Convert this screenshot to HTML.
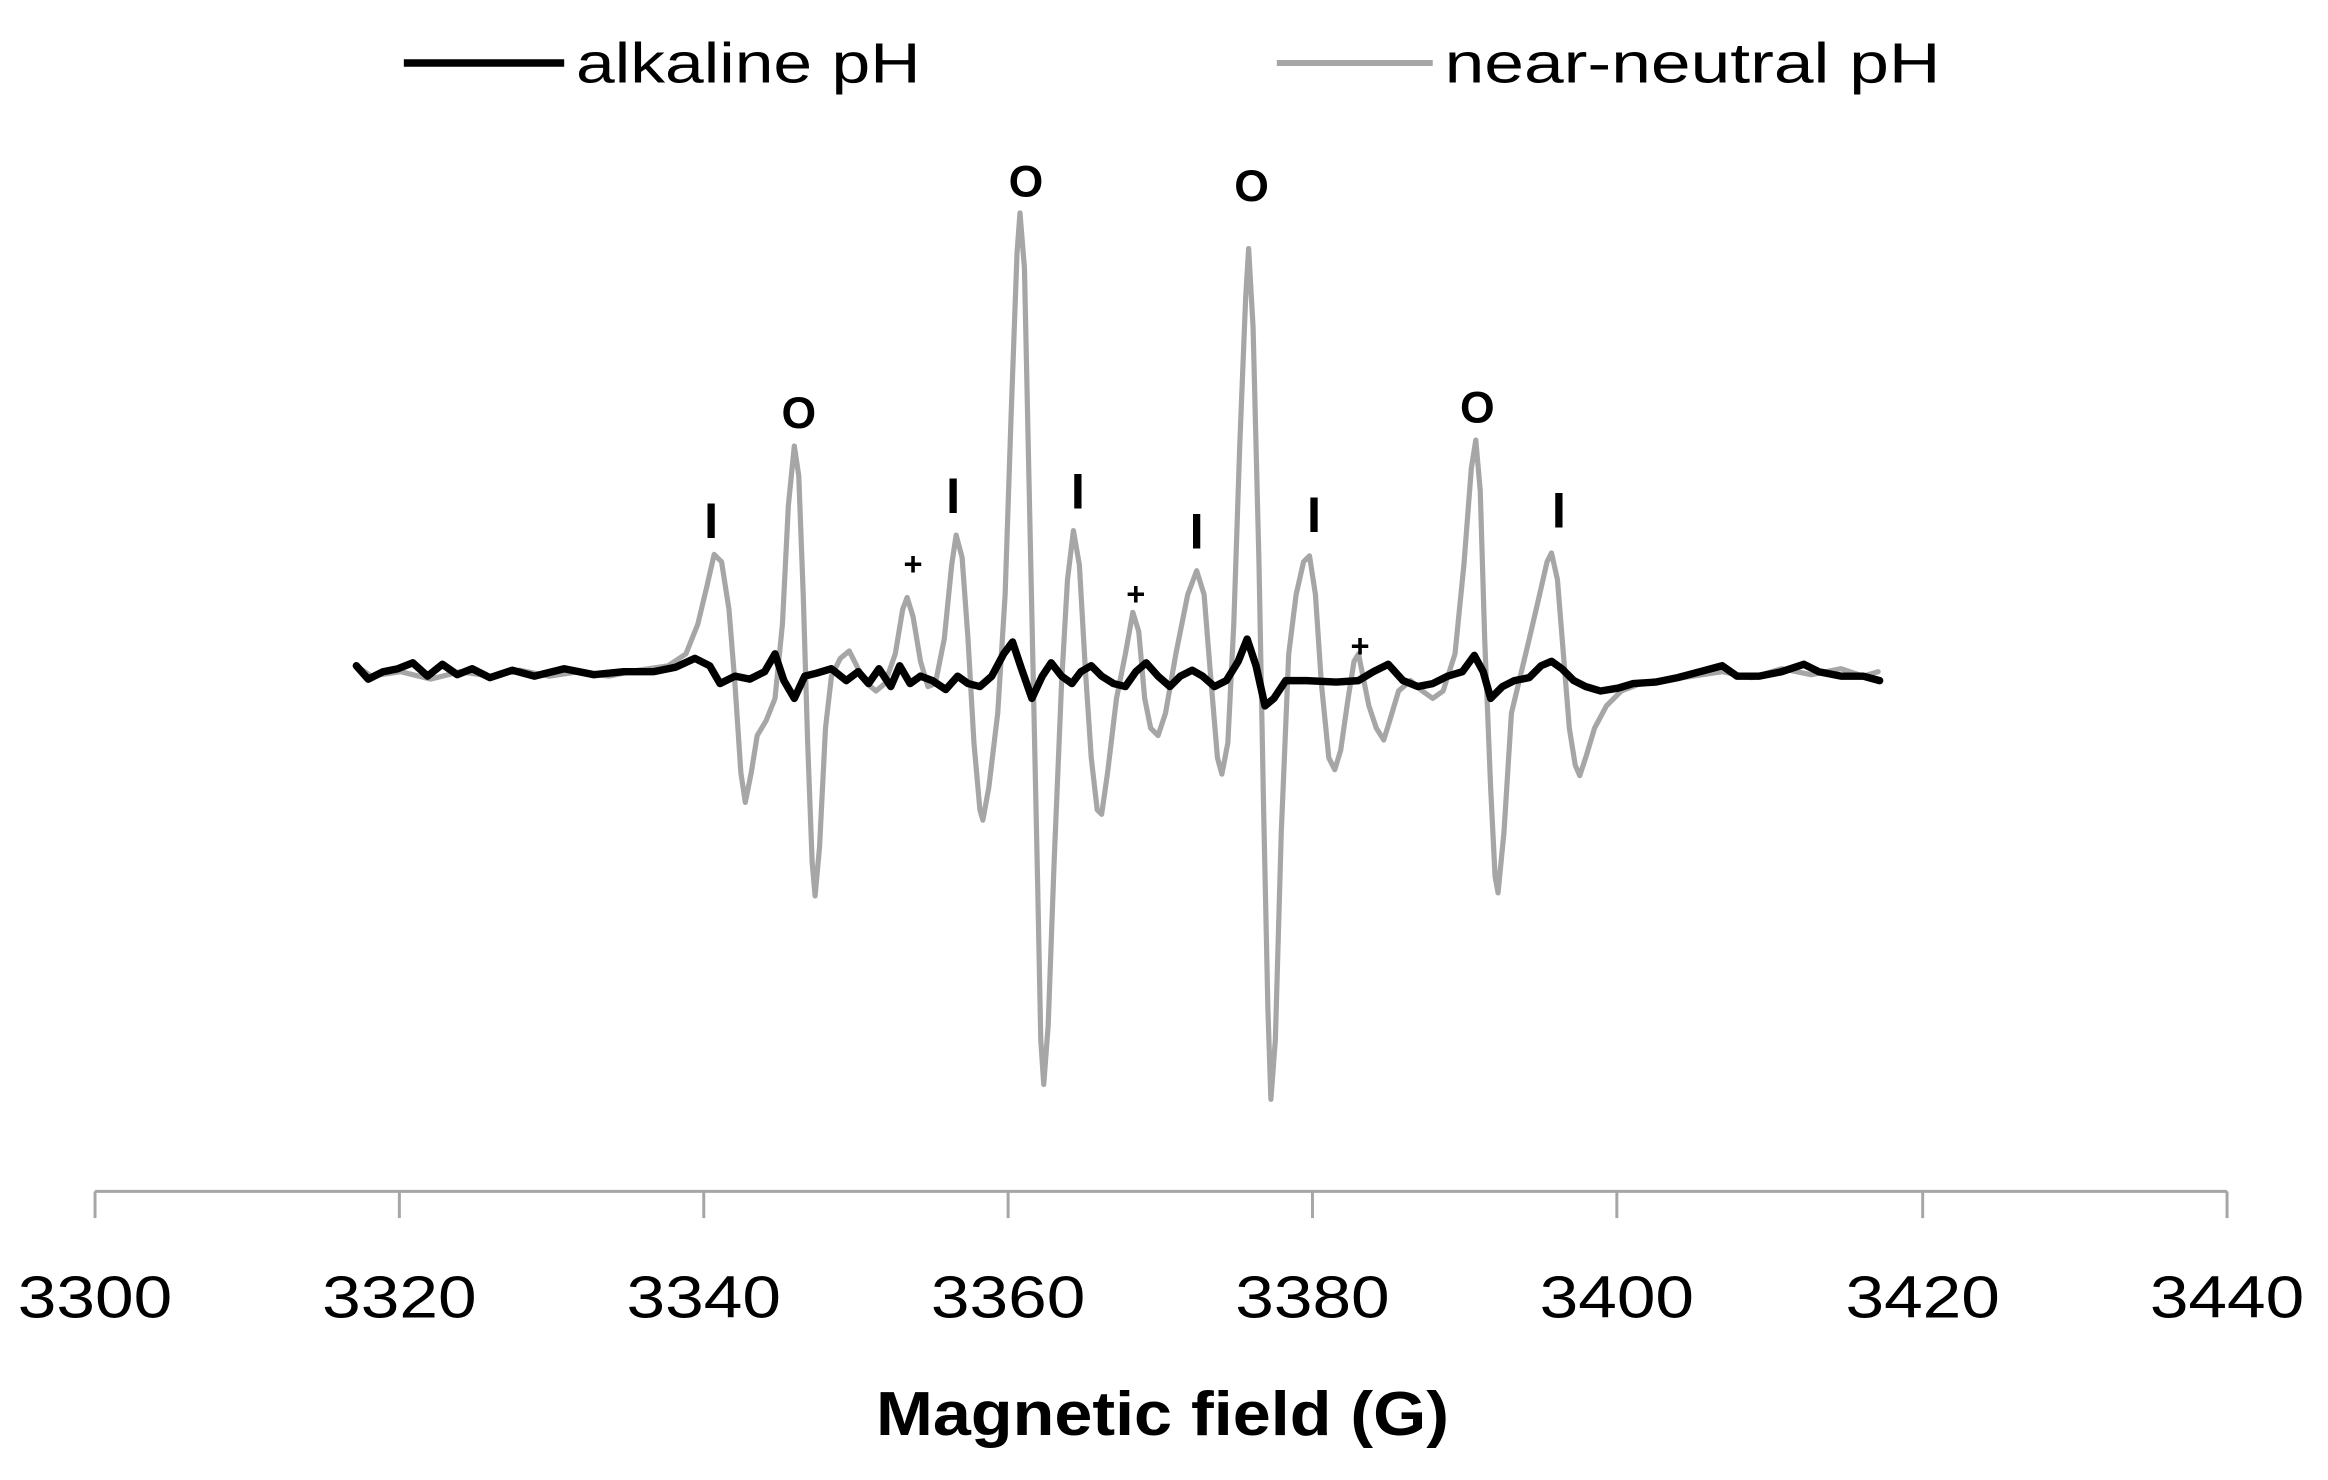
<!DOCTYPE html>
<html><head><meta charset="utf-8">
<style>html,body{margin:0;padding:0;background:#fff;}svg{display:block}</style>
</head><body>
<svg width="2328" height="1480" viewBox="0 0 1568 996" xmlns="http://www.w3.org/2000/svg" font-family="Liberation Sans, sans-serif">
<rect width="1568" height="996" fill="#fff"/>
<line x1="272" y1="42" x2="380" y2="42" stroke="#000" stroke-width="5"/>
<text x="388" y="55" font-size="38" textLength="232" lengthAdjust="spacingAndGlyphs">alkaline pH</text>
<line x1="860" y1="42" x2="965" y2="42" stroke="#a6a6a6" stroke-width="4"/>
<text x="973" y="55" font-size="38" textLength="334" lengthAdjust="spacingAndGlyphs">near-neutral pH</text>
<g stroke="#a6a6a6" stroke-width="2">
<line x1="64" y1="802" x2="1500" y2="802"/>
<line x1="64" y1="802" x2="64" y2="820"/><line x1="269" y1="802" x2="269" y2="820"/><line x1="474" y1="802" x2="474" y2="820"/><line x1="679" y1="802" x2="679" y2="820"/><line x1="884" y1="802" x2="884" y2="820"/><line x1="1089" y1="802" x2="1089" y2="820"/><line x1="1295" y1="802" x2="1295" y2="820"/><line x1="1500" y1="802" x2="1500" y2="820"/>
</g>
<g font-size="40" text-anchor="middle">
<text x="64" y="887" textLength="104" lengthAdjust="spacingAndGlyphs">3300</text>
<text x="269" y="887" textLength="104" lengthAdjust="spacingAndGlyphs">3320</text>
<text x="474" y="887" textLength="104" lengthAdjust="spacingAndGlyphs">3340</text>
<text x="679" y="887" textLength="104" lengthAdjust="spacingAndGlyphs">3360</text>
<text x="884" y="887" textLength="104" lengthAdjust="spacingAndGlyphs">3380</text>
<text x="1089" y="887" textLength="104" lengthAdjust="spacingAndGlyphs">3400</text>
<text x="1295" y="887" textLength="104" lengthAdjust="spacingAndGlyphs">3420</text>
<text x="1500" y="887" textLength="104" lengthAdjust="spacingAndGlyphs">3440</text>
</g>
<text x="590" y="966" font-size="42" font-weight="bold" textLength="386" lengthAdjust="spacingAndGlyphs">Magnetic field (G)</text>
<polyline fill="none" stroke="#a6a6a6" stroke-width="3.5" stroke-linejoin="round" stroke-linecap="round" points="240,448 250,455 270,452 290,457 310,452 330,455 350,451 370,455 390,452 410,455 430,451 450,448 462,440 470,420 476,395 481,373 486,378 491,410 495,460 499,520 502,540 506,520 510,495 516,485 522,470 527,420 531,340 535,300 538,320 541,400 544,500 547,580 549,603 552,570 556,490 560,455 566,443 572,438 578,450 584,460 590,465 596,460 603,440 608,410 611,402 615,415 620,445 625,462 630,460 636,430 641,380 644,360 648,375 652,430 656,500 660,545 662,552 666,530 672,480 677,400 681,280 685,170 687,143 690,180 693,320 696,460 699,600 701,700 703,730 706,690 710,580 715,460 719,390 723,357 727,380 731,450 735,510 739,545 742,548 746,520 752,470 758,440 763,412 767,425 771,470 775,490 780,495 785,480 792,440 800,400 806,384 811,400 815,450 820,510 823,521 827,500 831,420 835,300 839,200 841,167 844,220 848,380 851,540 854,680 856,740 859,700 863,560 868,440 873,400 878,378 882,374 886,400 890,460 895,510 899,518 903,505 908,470 912,445 915,440 918,455 922,475 927,490 932,498 936,485 942,465 950,458 958,465 965,470 972,465 980,440 986,380 991,315 994,296 997,330 1000,430 1004,530 1007,590 1009,601 1013,560 1018,480 1024,455 1030,430 1037,400 1042,378 1045,372 1049,390 1053,440 1057,490 1061,515 1064,522 1068,510 1074,490 1082,475 1092,465 1105,460 1120,458 1140,455 1160,452 1180,456 1200,450 1220,454 1240,450 1255,455 1265,452"/>
<polyline fill="none" stroke="#000" stroke-width="5" stroke-linejoin="round" stroke-linecap="round" points="240,448 248,457 258,452 268,450 278,446 288,455 298,447 308,454 318,450 330,456 345,451 360,455 380,450 400,454 420,452 440,452 455,449 468,443 478,448 485,460 495,455 505,457 515,452 522,440 528,458 535,470 542,455 550,453 560,450 570,458 578,452 585,460 592,450 600,462 606,448 613,460 620,455 628,458 637,464 645,455 652,460 660,462 668,455 676,440 682,432 688,450 695,470 702,455 708,446 715,455 722,460 728,452 735,448 742,455 750,460 758,462 765,452 772,446 780,455 788,462 795,455 803,451 810,455 818,462 826,458 834,445 840,430 846,448 852,475 858,470 866,458 880,458 900,459 915,458 925,452 935,447 945,458 955,462 965,460 975,455 985,452 993,441 999,452 1004,470 1012,462 1020,458 1030,456 1038,448 1045,445 1052,450 1060,458 1068,462 1078,465 1090,463 1100,460 1115,459 1130,456 1145,452 1160,448 1170,455 1185,455 1200,452 1215,447 1225,452 1240,455 1255,455 1266,458"/>
<g font-weight="bold" text-anchor="middle">
<g font-size="30">
<text x="538" y="288">O</text><text x="691" y="132">O</text><text x="843" y="135">O</text><text x="995" y="284">O</text>
</g>
<g font-size="34">
<text x="479" y="362">I</text><text x="642" y="345">I</text><text x="726" y="342">I</text><text x="806" y="369">I</text><text x="885" y="358">I</text><text x="1050" y="355">I</text>
</g>
<g font-size="22">
<text x="615" y="387">+</text><text x="765" y="407">+</text><text x="916" y="442">+</text>
</g>
</g>
</svg>
</body></html>
